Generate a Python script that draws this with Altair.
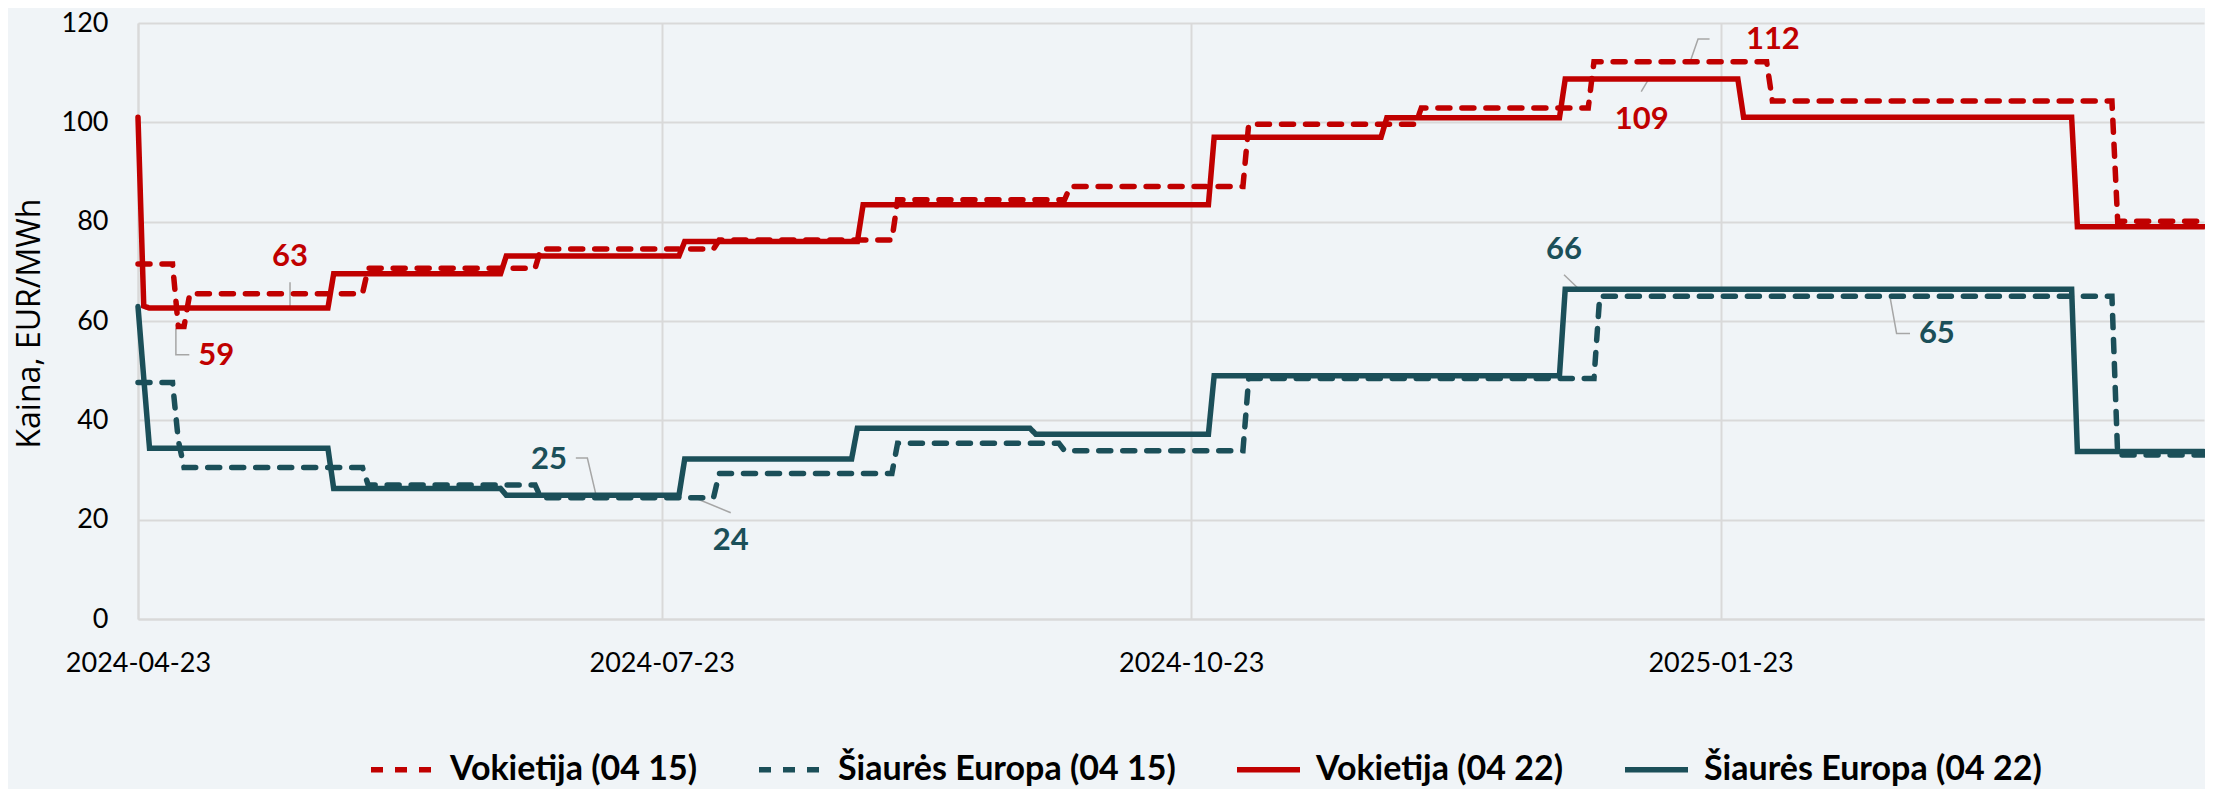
import altair as alt
import pandas as pd

SERIES = ["Vokietija (04 15)", "Šiaurės Europa (04 15)", "Vokietija (04 22)", "Šiaurės Europa (04 22)"]
COLORS = ["#C00000", "#1B4F59", "#C00000", "#1B4F59"]
DASHES = [[12, 12], [12, 12], [1, 0], [1, 0]]
RED = "#C00000"
TEAL = "#1B4F59"

X_START = "2024-04-23"
X_END = "2025-04-17"
X_TICKS = ["2024-04-23", "2024-07-23", "2024-10-23", "2025-01-23"]
Y_TICKS = [0, 20, 40, 60, 80, 100, 120]

# Step segments: first day, last day, price (EUR/MWh)
de15_start = ["2024-04-23", "2024-04-30", "2024-05-02", "2024-06-02", "2024-07-02", "2024-08-02", "2024-09-02",
              "2024-10-02", "2024-11-02", "2024-12-02", "2025-01-01", "2025-02-01", "2025-04-02"]
de15_end = ["2024-04-29", "2024-05-01", "2024-06-01", "2024-07-01", "2024-08-01", "2024-09-01", "2024-10-01",
            "2024-11-01", "2024-12-01", "2024-12-31", "2025-01-31", "2025-04-01", "2025-04-17"]
de15_val = [71.5, 58.9, 65.5, 70.6, 74.5, 76.3, 84.4, 87.1, 99.6, 102.9, 112.2, 104.3, 80.1]

ne15_start = ["2024-04-23", "2024-04-30", "2024-05-01", "2024-06-02", "2024-07-02", "2024-08-02", "2024-09-02",
              "2024-10-01", "2024-11-02", "2025-01-02", "2025-04-02"]
ne15_end = ["2024-04-29", "2024-04-30", "2024-06-01", "2024-07-01", "2024-08-01", "2024-09-01", "2024-09-30",
            "2024-11-01", "2025-01-01", "2025-04-01", "2025-04-17"]
ne15_val = [47.6, 36.0, 30.5, 27.0, 24.4, 29.3, 35.4, 33.9, 48.4, 65.0, 33.0]

de22_start = ["2024-04-23", "2024-04-24", "2024-04-25", "2024-05-27", "2024-06-26", "2024-07-27", "2024-08-27",
              "2024-10-27", "2024-11-26", "2024-12-27", "2025-01-27", "2025-03-26"]
de22_end = ["2024-04-23", "2024-04-24", "2024-05-26", "2024-06-25", "2024-07-26", "2024-08-26", "2024-10-26",
            "2024-11-25", "2024-12-26", "2025-01-26", "2025-03-25", "2025-04-17"]
de22_val = [101.0, 63.0, 62.6, 69.5, 73.1, 76.0, 83.4, 97.0, 100.9, 108.7, 101.0, 79.0]

ne22_start = ["2024-04-23", "2024-04-24", "2024-04-25", "2024-05-27", "2024-06-26", "2024-07-27", "2024-08-26",
              "2024-09-26", "2024-10-27", "2024-12-27", "2025-03-26"]
ne22_end = ["2024-04-23", "2024-04-24", "2024-05-26", "2024-06-25", "2024-07-26", "2024-08-25", "2024-09-25",
            "2024-10-26", "2024-12-26", "2025-03-25", "2025-04-17"]
ne22_val = [62.9, 48.5, 34.4, 26.3, 24.9, 32.2, 38.4, 37.2, 49.0, 66.4, 33.7]

# Data labels
red_lab_text = ["63", "59", "109", "112"]
red_lab_time = ["2024-05-19T10:00", "2024-05-06T14:00", "2025-01-09T07:00", "2025-02-01T02:00"]
red_lab_val = [72.8, 52.9, 100.5, 116.6]

teal_lab_text = ["25", "24", "66", "65"]
teal_lab_time = ["2024-07-03T10:00", "2024-08-04T00:00", "2024-12-26T19:00", "2025-03-01T14:00"]
teal_lab_val = [32.0, 15.7, 74.3, 57.4]

# Leader lines of the labels
lead_id = ["63", "63", "59", "59", "59", "25", "25", "25", "24", "24",
           "109", "109", "112", "112", "112", "66", "66", "65", "65", "65"]
lead_time = ["2024-05-19T10:00", "2024-05-19T10:00",
             "2024-04-29T14:00", "2024-04-29T14:00", "2024-05-01T22:00",
             "2024-07-08T02:00", "2024-07-10T02:00", "2024-07-11T14:00",
             "2024-07-28T12:00", "2024-08-04T00:00",
             "2025-01-10T12:00", "2025-01-09T05:00",
             "2025-01-17T17:00", "2025-01-19T02:00", "2025-01-21T02:00",
             "2024-12-26T19:00", "2024-12-29T10:00",
             "2025-02-21T10:00", "2025-02-22T14:00", "2025-02-24T22:00"]
lead_val = [67.8, 62.6, 58.5, 53.2, 53.2, 32.4, 32.4, 25.0, 24.5, 21.4,
            108.7, 106.2, 112.2, 116.8, 116.8, 69.3, 66.4, 65.0, 57.5, 57.5]


def ms(values):
    return [int(v) for v in (pd.to_datetime(pd.Series(values)).astype("int64") // 10**6)]


rows = []
for name, starts, ends, vals in [
    (SERIES[0], de15_start, de15_end, de15_val),
    (SERIES[1], ne15_start, ne15_end, ne15_val),
    (SERIES[2], de22_start, de22_end, de22_val),
    (SERIES[3], ne22_start, ne22_end, ne22_val),
]:
    s_ms, e_ms = ms(starts), ms(ends)
    for s, e, v in zip(s_ms, e_ms, vals):
        rows.append({"series": name, "t": s, "v": v})
        if e != s:
            rows.append({"series": name, "t": e, "v": v})
lines_df = pd.DataFrame(rows)

red_df = pd.DataFrame({"t": ms(red_lab_time), "v": red_lab_val, "label": red_lab_text})
teal_df = pd.DataFrame({"t": ms(teal_lab_time), "v": teal_lab_val, "label": teal_lab_text})
lead_df = pd.DataFrame({"t": ms(lead_time), "v": lead_val, "id": lead_id})

x_enc = alt.X(
    "t:T",
    scale=alt.Scale(type="utc", domain=ms([X_START, X_END])),
    axis=alt.Axis(values=ms(X_TICKS), format="%Y-%m-%d", title=None, labelFlush=False,
                  labelOverlap=False, labelPadding=31, labelFontSize=27),
)
y_enc = alt.Y(
    "v:Q",
    scale=alt.Scale(domain=[0, 120], nice=False),
    axis=alt.Axis(values=Y_TICKS, title="Kaina, EUR/MWh", labelPadding=30, labelFontSize=27,
                  titleFont="Open Sans", titleFontSize=32, titleFontWeight="normal",
                  titleColor="#000000", titleX=-109, titleY=300, titleBaseline="middle",
                  titleAlign="center", titleAngle=270),
)

legend = alt.Legend(
    title=None, orient="none", legendX=230, legendY=712, direction="horizontal",
    symbolType="stroke", symbolSize=3969, symbolStrokeWidth=5.5,
    labelFont="Lato", labelFontWeight="bold", labelFontSize=34, labelColor="#000000",
    labelOffset=13, columnPadding=50, labelLimit=600,
)

lines = alt.Chart(lines_df).mark_line(strokeWidth=5.5, strokeCap="round").encode(
    x=x_enc,
    y=y_enc,
    color=alt.Color("series:N", scale=alt.Scale(domain=SERIES, range=COLORS), legend=legend),
    strokeDash=alt.StrokeDash("series:N", scale=alt.Scale(domain=SERIES, range=DASHES), legend=legend),
)

leaders = alt.Chart(lead_df).mark_line(color="#A6A6A6", strokeWidth=1.5).encode(
    x="t:T", y="v:Q", detail="id:N"
)

red_text = alt.Chart(red_df).mark_text(
    font="Lato", fontWeight="bold", fontSize=31, color=RED, align="center", baseline="middle"
).encode(x="t:T", y="v:Q", text="label:N")

teal_text = alt.Chart(teal_df).mark_text(
    font="Lato", fontWeight="bold", fontSize=31, color=TEAL, align="center", baseline="middle"
).encode(x="t:T", y="v:Q", text="label:N")

chart = alt.layer(leaders, lines, red_text, teal_text).properties(
    width=2066, height=596,
    autosize=alt.AutoSizeParams(type="none"),
    padding={"left": 130, "top": 15, "right": 1, "bottom": 170},
    background="#F0F4F7",
).configure_view(stroke=None).configure_axis(
    gridColor="#D9D9D9", gridWidth=2, domainColor="#D9D9D9", domainWidth=2,
    ticks=False, labelFont="Lato", labelColor="#000000",
)

chart.save("out.html", embed_options={"renderer": "svg", "actions": False})
